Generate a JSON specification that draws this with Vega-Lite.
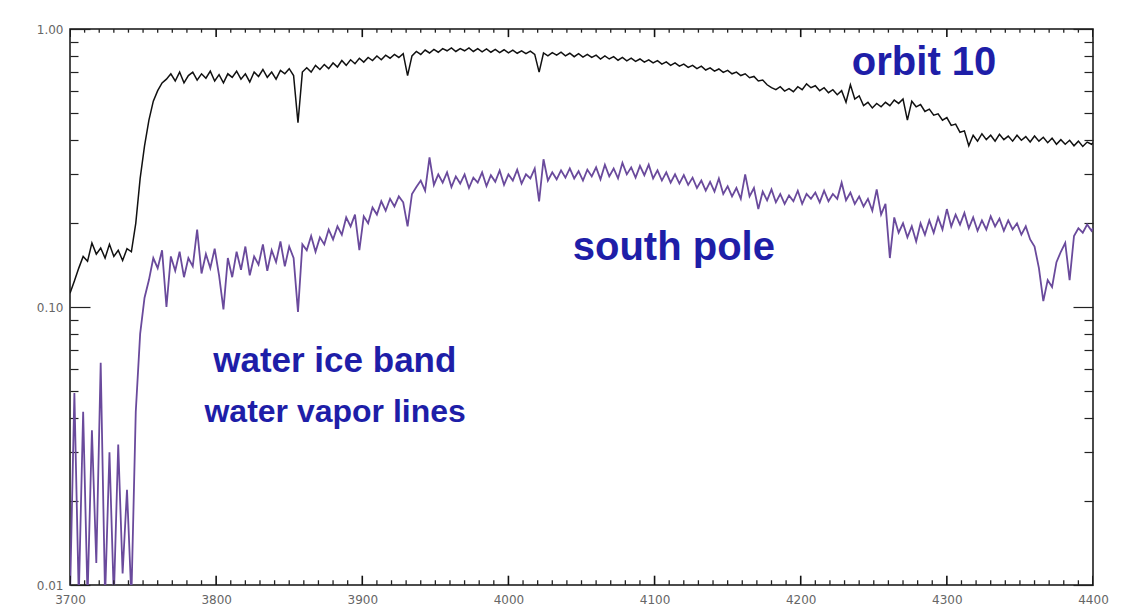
{
"$schema": "https://vega.github.io/schema/vega-lite/v6.json",
"width": 1023, "height": 556,
"autosize": {"type": "none"},
"padding": {"left": 70, "top": 29, "right": 34, "bottom": 27},
"background": "white",
"config": {
  "view": {"stroke": "#111", "strokeWidth": 1.5},
  "axis": {"domain": false, "grid": false, "title": null, "tickColor": "#222", "tickWidth": 1.2, "labelColor": "#666", "labelFont": "DejaVu Sans", "labelFontSize": 12, "labelFlush": false, "labelOverlap": false}
},
"datasets": {
"xmajor": [{"t":3700},{"t":3800},{"t":3900},{"t":4000},{"t":4100},{"t":4200},{"t":4300},{"t":4400}],
"xminor": [{"t":3710},{"t":3720},{"t":3730},{"t":3740},{"t":3750},{"t":3760},{"t":3770},{"t":3780},{"t":3790},{"t":3810},{"t":3820},{"t":3830},{"t":3840},{"t":3850},{"t":3860},{"t":3870},{"t":3880},{"t":3890},{"t":3910},{"t":3920},{"t":3930},{"t":3940},{"t":3950},{"t":3960},{"t":3970},{"t":3980},{"t":3990},{"t":4010},{"t":4020},{"t":4030},{"t":4040},{"t":4050},{"t":4060},{"t":4070},{"t":4080},{"t":4090},{"t":4110},{"t":4120},{"t":4130},{"t":4140},{"t":4150},{"t":4160},{"t":4170},{"t":4180},{"t":4190},{"t":4210},{"t":4220},{"t":4230},{"t":4240},{"t":4250},{"t":4260},{"t":4270},{"t":4280},{"t":4290},{"t":4310},{"t":4320},{"t":4330},{"t":4340},{"t":4350},{"t":4360},{"t":4370},{"t":4380},{"t":4390}],
"spec": [
{"w":3700,"a":0.112,"b":0.009},{"w":3703,"a":0.124,"b":0.049},{"w":3706,"a":0.138,"b":0.009},{"w":3709,"a":0.152,"b":0.042},{"w":3712,"a":0.146,"b":0.009},{"w":3715,"a":0.170,"b":0.036},{"w":3718,"a":0.155,"b":0.012},{"w":3721,"a":0.163,"b":0.063},{"w":3724,"a":0.150,"b":0.009},{"w":3727,"a":0.168,"b":0.030},{"w":3730,"a":0.152,"b":0.009},{"w":3733,"a":0.160,"b":0.032},{"w":3736,"a":0.147,"b":0.011},{"w":3739,"a":0.162,"b":0.022},{"w":3742,"a":0.158,"b":0.009},
{"w":3745,"a":0.200,"b":0.042},{"w":3748,"a":0.290,"b":0.080},{"w":3751,"a":0.380,"b":0.108},{"w":3754,"a":0.470,"b":0.125},{"w":3757,"a":0.550,"b":0.150},{"w":3760,"a":0.600,"b":0.138},{"w":3763,"a":0.640,"b":0.160},{"w":3766,"a":0.660,"b":0.100},{"w":3769,"a":0.690,"b":0.152},{"w":3772,"a":0.650,"b":0.135},{"w":3775,"a":0.700,"b":0.158},{"w":3778,"a":0.640,"b":0.128},{"w":3781,"a":0.680,"b":0.150},{"w":3784,"a":0.700,"b":0.140},{"w":3787,"a":0.655,"b":0.190},{"w":3790,"a":0.690,"b":0.132},{"w":3793,"a":0.665,"b":0.155},{"w":3796,"a":0.705,"b":0.138},{"w":3799,"a":0.650,"b":0.162},{"w":3802,"a":0.685,"b":0.130},{"w":3805,"a":0.640,"b":0.098},{"w":3808,"a":0.690,"b":0.150},{"w":3811,"a":0.670,"b":0.128},{"w":3814,"a":0.705,"b":0.158},{"w":3817,"a":0.660,"b":0.136},{"w":3820,"a":0.690,"b":0.165},{"w":3823,"a":0.645,"b":0.130},{"w":3826,"a":0.700,"b":0.152},{"w":3829,"a":0.675,"b":0.142},{"w":3832,"a":0.715,"b":0.168},{"w":3835,"a":0.670,"b":0.135},{"w":3838,"a":0.700,"b":0.160},{"w":3841,"a":0.660,"b":0.145},{"w":3844,"a":0.710,"b":0.172},{"w":3847,"a":0.690,"b":0.140},{"w":3850,"a":0.720,"b":0.165},{"w":3853,"a":0.680,"b":0.150},{"w":3856,"a":0.460,"b":0.096},{"w":3859,"a":0.700,"b":0.168},
{"w":3862,"a":0.725,"b":0.160},{"w":3865,"a":0.700,"b":0.180},{"w":3868,"a":0.740,"b":0.158},{"w":3871,"a":0.715,"b":0.178},{"w":3874,"a":0.745,"b":0.168},{"w":3877,"a":0.720,"b":0.190},{"w":3880,"a":0.755,"b":0.175},{"w":3883,"a":0.730,"b":0.195},{"w":3886,"a":0.770,"b":0.182},{"w":3889,"a":0.740,"b":0.210},{"w":3892,"a":0.775,"b":0.195},{"w":3895,"a":0.750,"b":0.215},{"w":3898,"a":0.785,"b":0.160},{"w":3901,"a":0.760,"b":0.212},{"w":3904,"a":0.790,"b":0.200},{"w":3907,"a":0.770,"b":0.228},{"w":3910,"a":0.800,"b":0.215},{"w":3913,"a":0.775,"b":0.240},{"w":3916,"a":0.805,"b":0.222},{"w":3919,"a":0.785,"b":0.245},{"w":3922,"a":0.810,"b":0.230},{"w":3925,"a":0.790,"b":0.250},{"w":3928,"a":0.815,"b":0.238},{"w":3931,"a":0.680,"b":0.195},{"w":3934,"a":0.800,"b":0.255},{"w":3937,"a":0.830,"b":0.270},{"w":3940,"a":0.810,"b":0.285},{"w":3943,"a":0.840,"b":0.262},{"w":3946,"a":0.820,"b":0.345},{"w":3949,"a":0.845,"b":0.275},{"w":3952,"a":0.825,"b":0.300},{"w":3955,"a":0.850,"b":0.280},{"w":3958,"a":0.835,"b":0.305},{"w":3961,"a":0.855,"b":0.270},{"w":3964,"a":0.830,"b":0.295},{"w":3967,"a":0.850,"b":0.278},{"w":3970,"a":0.835,"b":0.300},{"w":3973,"a":0.855,"b":0.268},{"w":3976,"a":0.830,"b":0.292},{"w":3979,"a":0.850,"b":0.280},{"w":3982,"a":0.828,"b":0.305},{"w":3985,"a":0.848,"b":0.272},{"w":3988,"a":0.825,"b":0.298},{"w":3991,"a":0.845,"b":0.282},{"w":3994,"a":0.822,"b":0.310},{"w":3997,"a":0.842,"b":0.275},
{"w":4000,"a":0.820,"b":0.300},{"w":4003,"a":0.840,"b":0.285},{"w":4006,"a":0.818,"b":0.312},{"w":4009,"a":0.835,"b":0.278},{"w":4012,"a":0.815,"b":0.300},{"w":4015,"a":0.832,"b":0.290},{"w":4018,"a":0.810,"b":0.315},{"w":4021,"a":0.700,"b":0.240},{"w":4024,"a":0.820,"b":0.340},{"w":4027,"a":0.800,"b":0.285},{"w":4030,"a":0.822,"b":0.305},{"w":4033,"a":0.805,"b":0.288},{"w":4036,"a":0.825,"b":0.310},{"w":4039,"a":0.800,"b":0.292},{"w":4042,"a":0.818,"b":0.315},{"w":4045,"a":0.795,"b":0.290},{"w":4048,"a":0.815,"b":0.308},{"w":4051,"a":0.792,"b":0.285},{"w":4054,"a":0.810,"b":0.312},{"w":4057,"a":0.790,"b":0.295},{"w":4060,"a":0.805,"b":0.318},{"w":4063,"a":0.780,"b":0.288},{"w":4066,"a":0.800,"b":0.325},{"w":4069,"a":0.780,"b":0.295},{"w":4072,"a":0.795,"b":0.315},{"w":4075,"a":0.772,"b":0.290},{"w":4078,"a":0.790,"b":0.330},{"w":4081,"a":0.768,"b":0.300},{"w":4084,"a":0.785,"b":0.318},{"w":4087,"a":0.765,"b":0.292},{"w":4090,"a":0.780,"b":0.322},{"w":4093,"a":0.760,"b":0.298},{"w":4096,"a":0.775,"b":0.325},{"w":4099,"a":0.755,"b":0.290},
{"w":4102,"a":0.770,"b":0.310},{"w":4105,"a":0.748,"b":0.285},{"w":4108,"a":0.762,"b":0.305},{"w":4111,"a":0.740,"b":0.280},{"w":4114,"a":0.755,"b":0.300},{"w":4117,"a":0.735,"b":0.278},{"w":4120,"a":0.748,"b":0.298},{"w":4123,"a":0.728,"b":0.275},{"w":4126,"a":0.740,"b":0.292},{"w":4129,"a":0.720,"b":0.268},{"w":4132,"a":0.735,"b":0.285},{"w":4135,"a":0.712,"b":0.262},{"w":4138,"a":0.725,"b":0.282},{"w":4141,"a":0.705,"b":0.260},{"w":4144,"a":0.718,"b":0.290},{"w":4147,"a":0.698,"b":0.255},{"w":4150,"a":0.710,"b":0.272},{"w":4153,"a":0.690,"b":0.250},{"w":4156,"a":0.700,"b":0.268},{"w":4159,"a":0.680,"b":0.245},{"w":4162,"a":0.690,"b":0.300},{"w":4165,"a":0.668,"b":0.250},{"w":4168,"a":0.675,"b":0.268},{"w":4171,"a":0.650,"b":0.225},{"w":4174,"a":0.655,"b":0.260},{"w":4177,"a":0.630,"b":0.242},{"w":4180,"a":0.615,"b":0.265},{"w":4183,"a":0.605,"b":0.238},{"w":4186,"a":0.620,"b":0.255},{"w":4189,"a":0.598,"b":0.235},{"w":4192,"a":0.610,"b":0.252},{"w":4195,"a":0.595,"b":0.240},{"w":4198,"a":0.620,"b":0.262},
{"w":4201,"a":0.605,"b":0.235},{"w":4204,"a":0.635,"b":0.255},{"w":4207,"a":0.615,"b":0.245},{"w":4210,"a":0.625,"b":0.258},{"w":4213,"a":0.600,"b":0.238},{"w":4216,"a":0.615,"b":0.262},{"w":4219,"a":0.590,"b":0.240},{"w":4222,"a":0.605,"b":0.255},{"w":4225,"a":0.580,"b":0.245},{"w":4228,"a":0.600,"b":0.280},{"w":4231,"a":0.545,"b":0.242},{"w":4234,"a":0.630,"b":0.258},{"w":4237,"a":0.560,"b":0.235},{"w":4240,"a":0.575,"b":0.250},{"w":4243,"a":0.530,"b":0.230},{"w":4246,"a":0.545,"b":0.245},{"w":4249,"a":0.520,"b":0.222},{"w":4252,"a":0.540,"b":0.265},{"w":4255,"a":0.525,"b":0.215},{"w":4258,"a":0.545,"b":0.235},{"w":4261,"a":0.530,"b":0.150},{"w":4264,"a":0.555,"b":0.210},{"w":4267,"a":0.540,"b":0.185},{"w":4270,"a":0.560,"b":0.200},{"w":4273,"a":0.470,"b":0.178},{"w":4276,"a":0.550,"b":0.195},{"w":4279,"a":0.525,"b":0.172},{"w":4282,"a":0.535,"b":0.200},{"w":4285,"a":0.505,"b":0.182},{"w":4288,"a":0.515,"b":0.205},{"w":4291,"a":0.490,"b":0.185},{"w":4294,"a":0.495,"b":0.210},{"w":4297,"a":0.470,"b":0.190},
{"w":4300,"a":0.480,"b":0.225},{"w":4303,"a":0.450,"b":0.195},{"w":4306,"a":0.455,"b":0.215},{"w":4309,"a":0.425,"b":0.198},{"w":4312,"a":0.430,"b":0.218},{"w":4315,"a":0.380,"b":0.192},{"w":4318,"a":0.415,"b":0.210},{"w":4321,"a":0.395,"b":0.188},{"w":4324,"a":0.420,"b":0.205},{"w":4327,"a":0.400,"b":0.190},{"w":4330,"a":0.415,"b":0.212},{"w":4333,"a":0.395,"b":0.195},{"w":4336,"a":0.418,"b":0.208},{"w":4339,"a":0.400,"b":0.188},{"w":4342,"a":0.412,"b":0.205},{"w":4345,"a":0.395,"b":0.190},{"w":4348,"a":0.415,"b":0.200},{"w":4351,"a":0.398,"b":0.182},{"w":4354,"a":0.410,"b":0.195},{"w":4357,"a":0.392,"b":0.175},{"w":4360,"a":0.412,"b":0.165},{"w":4363,"a":0.395,"b":0.138},{"w":4366,"a":0.408,"b":0.105},{"w":4369,"a":0.390,"b":0.125},{"w":4372,"a":0.405,"b":0.118},{"w":4375,"a":0.385,"b":0.145},{"w":4378,"a":0.400,"b":0.158},{"w":4381,"a":0.385,"b":0.170},{"w":4384,"a":0.398,"b":0.125},{"w":4387,"a":0.380,"b":0.180},{"w":4390,"a":0.395,"b":0.192},{"w":4393,"a":0.378,"b":0.185},{"w":4396,"a":0.392,"b":0.198},{"w":4399,"a":0.385,"b":0.188},{"w":4400,"a":0.390,"b":0.192}
],
"notes": [
{"label":"orbit 10","w":4235,"v":0.683},
{"label":"south pole","w":4044,"v":0.148},
{"label":"water ice band","w":3798,"v":0.0584},
{"label":"water vapor lines","w":3792,"v":0.0386}
]
},
"layer": [
{
 "data": {"name": "spec"},
 "mark": {"type": "line", "color": "#111", "strokeWidth": 1.5, "clip": true},
 "encoding": {
  "x": {"field": "w", "type": "quantitative", "scale": {"domain": [3700, 4400], "nice": false, "zero": false},
        "axis": {"orient": "bottom", "values": [3700,3800,3900,4000,4100,4200,4300,4400], "format": "d", "ticks": false, "labelPadding": 9}},
  "y": {"field": "a", "type": "quantitative", "scale": {"type": "log", "domain": [0.01, 1], "nice": false},
        "axis": {"orient": "left", "values": [0.01, 0.1, 1], "format": ".2f", "offset": -20, "tickSize": 20, "labelPadding": 7}}
 }
},
{
 "data": {"name": "spec"},
 "mark": {"type": "line", "color": "#6a4a9c", "strokeWidth": 1.8, "clip": true},
 "encoding": {
  "x": {"field": "w", "type": "quantitative", "axis": null},
  "y": {"field": "b", "type": "quantitative",
        "axis": {"orient": "left", "labels": false, "offset": -8, "tickSize": 8, "values": [0.02,0.03,0.04,0.05,0.06,0.07,0.08,0.09,0.2,0.3,0.4,0.5,0.6,0.7,0.8,0.9]}}
 }
},
{
 "data": {"name": "xmajor"},
 "mark": {"type": "rule", "color": "#111", "strokeWidth": 1.6, "clip": true},
 "encoding": {
  "x": {"field": "t", "type": "quantitative", "axis": null},
  "y": {"datum": 0.01, "type": "quantitative", "axis": null},
  "y2": {"datum": 0.0108}
 }
},
{
 "data": {"name": "xmajor"},
 "mark": {"type": "rule", "color": "#111", "strokeWidth": 1.6, "clip": true},
 "encoding": {
  "x": {"field": "t", "type": "quantitative", "axis": null},
  "y": {"datum": 1, "type": "quantitative", "axis": null},
  "y2": {"datum": 0.935}
 }
},
{
 "data": {"name": "xminor"},
 "mark": {"type": "rule", "color": "#222", "strokeWidth": 1.3, "clip": true},
 "encoding": {
  "x": {"field": "t", "type": "quantitative", "axis": null},
  "y": {"datum": 0.01, "type": "quantitative", "axis": null},
  "y2": {"datum": 0.0104}
 }
},
{
 "data": {"name": "xminor"},
 "mark": {"type": "rule", "color": "#222", "strokeWidth": 1.3, "clip": true},
 "encoding": {
  "x": {"field": "t", "type": "quantitative", "axis": null},
  "y": {"datum": 1, "type": "quantitative", "axis": null},
  "y2": {"datum": 0.97}
 }
},
{
 "data": {"name": "notes"},
 "transform": [{"filter": "datum.label === 'orbit 10' || datum.label === 'south pole'"}],
 "mark": {"type": "text", "align": "left", "baseline": "alphabetic", "font": "Liberation Sans", "fontWeight": "bold", "fontSize": 40, "color": "#1e1ea8"},
 "encoding": {
  "x": {"field": "w", "type": "quantitative", "axis": null},
  "y": {"field": "v", "type": "quantitative",
        "axis": {"orient": "right", "labels": false, "offset": -20, "tickSize": 20, "values": [0.01, 0.1, 1]}},
  "text": {"field": "label"}
 }
},
{
 "data": {"name": "notes"},
 "transform": [{"filter": "datum.label === 'water ice band'"}],
 "mark": {"type": "text", "align": "left", "baseline": "alphabetic", "font": "Liberation Sans", "fontWeight": "bold", "fontSize": 35, "color": "#1e1ea8"},
 "encoding": {
  "x": {"field": "w", "type": "quantitative", "axis": null},
  "y": {"field": "v", "type": "quantitative",
        "axis": {"orient": "right", "labels": false, "offset": -9, "tickSize": 9, "values": [0.02,0.03,0.04,0.05,0.06,0.07,0.08,0.09,0.2,0.3,0.4,0.5,0.6,0.7,0.8,0.9]}},
  "text": {"field": "label"}
 }
},
{
 "data": {"name": "notes"},
 "transform": [{"filter": "datum.label === 'water vapor lines'"}],
 "mark": {"type": "text", "align": "left", "baseline": "alphabetic", "font": "Liberation Sans", "fontWeight": "bold", "fontSize": 32, "color": "#1e1ea8"},
 "encoding": {
  "x": {"field": "w", "type": "quantitative", "axis": null},
  "y": {"field": "v", "type": "quantitative", "axis": null},
  "text": {"field": "label"}
 }
}
],
"resolve": {"axis": {"x": "independent", "y": "independent"}}
}
